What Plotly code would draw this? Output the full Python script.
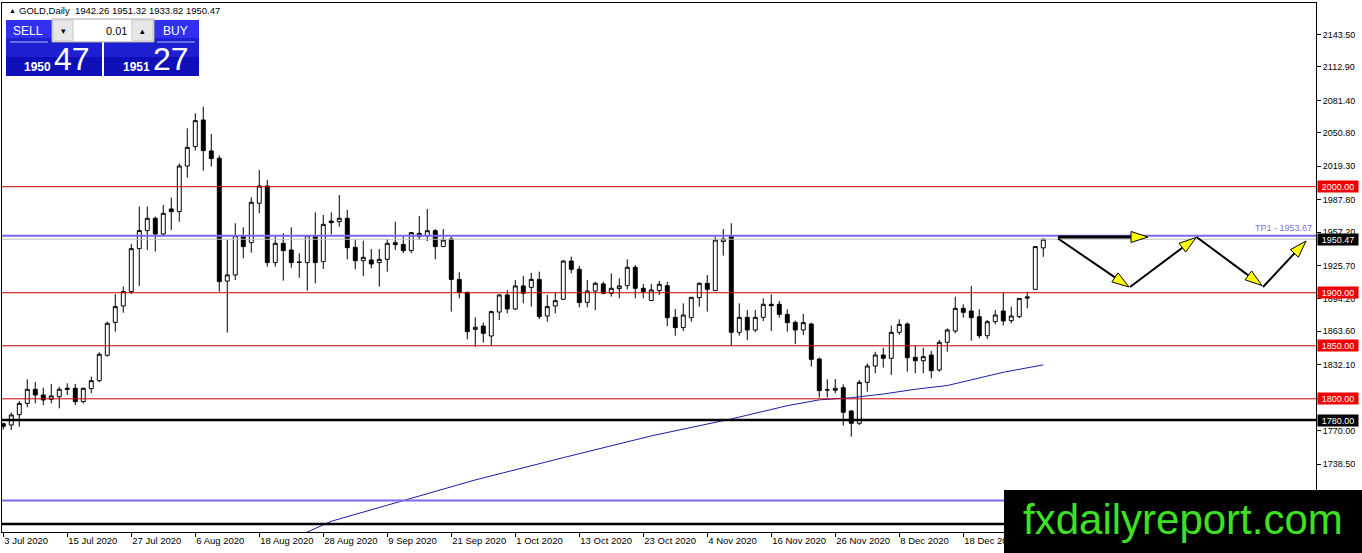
import pandas as pd
import plotly.graph_objects as go

# daily bars 3 Jul 2020 .. 5 Jan 2021 (no bars on 25 Dec and 1 Jan)
days = pd.bdate_range("2020-07-03", "2021-01-05")
days = days[~days.isin(pd.to_datetime(["2020-12-25", "2021-01-01"]))]
dates = [d.strftime("%Y-%m-%d") for d in days]

opens = [
    1776.5, 1775.3, 1785.0, 1795.7, 1809.0, 1803.6, 1799.5, 1802.0, 1810.0, 1809.9,
    1797.3, 1809.6, 1817.1, 1841.0, 1872.0, 1887.5, 1901.1, 1941.6, 1958.6, 1970.2,
    1955.4, 1979.0, 1976.5, 2019.5, 2037.8, 2062.9, 2033.7, 2026.8, 1911.0, 1916.8,
    1953.9, 1947.3, 1984.4, 2000.7, 1928.4, 1946.6, 1940.3, 1929.0, 1928.4, 1953.8,
    1929.3, 1967.6, 1967.0, 1970.2, 1942.8, 1930.2, 1930.9, 1928.4, 1931.5, 1947.2,
    1945.6, 1939.7, 1952.9, 1953.5, 1958.5, 1943.5, 1950.7, 1912.6, 1900.4, 1865.5,
    1868.6, 1859.2, 1881.8, 1897.9, 1884.7, 1906.4, 1905.1, 1912.6, 1878.1, 1887.5,
    1893.8, 1929.9, 1922.1, 1891.0, 1901.6, 1908.3, 1899.5, 1903.9, 1906.7, 1924.0,
    1904.2, 1892.7, 1902.0, 1906.7, 1876.8, 1867.1, 1876.5, 1895.4, 1908.9, 1902.0,
    1948.2, 1953.8, 1862.7, 1876.8, 1864.9, 1876.8, 1889.1, 1889.1, 1879.6, 1872.1,
    1864.9, 1870.5, 1837.5, 1808.5, 1808.0, 1810.5, 1788.5, 1776.9, 1815.5, 1830.9,
    1841.3, 1838.2, 1862.7, 1870.5, 1839.1, 1835.9, 1841.3, 1827.2, 1853.3, 1863.9,
    1885.3, 1882.8, 1877.4, 1859.5, 1872.7, 1882.8, 1873.7, 1877.4, 1894.9, 1903.2,
    1942.26,
]
highs = [
    1777.5, 1787.0, 1798.0, 1818.4, 1815.9, 1810.5, 1814.0, 1811.5, 1814.6, 1814.0,
    1810.5, 1820.9, 1843.9, 1872.8, 1898.8, 1905.8, 1946.0, 1981.2, 1981.2, 1971.8,
    1982.8, 1989.7, 2022.0, 2055.0, 2069.2, 2075.5, 2049.7, 2029.6, 1949.8, 1965.5,
    1961.7, 1990.0, 2015.7, 2006.3, 1954.5, 1956.0, 1961.7, 1937.2, 1954.5, 1975.8,
    1973.3, 1975.8, 1992.2, 1978.0, 1950.4, 1949.1, 1941.2, 1941.2, 1950.7, 1967.0,
    1954.1, 1957.0, 1972.4, 1979.0, 1960.1, 1960.1, 1952.9, 1919.3, 1901.0, 1876.8,
    1871.8, 1883.1, 1898.8, 1902.6, 1912.0, 1915.8, 1918.9, 1919.9, 1897.9, 1900.1,
    1930.9, 1934.0, 1925.2, 1912.0, 1910.4, 1910.4, 1918.3, 1913.6, 1931.5, 1926.2,
    1908.3, 1908.3, 1911.1, 1910.4, 1884.7, 1890.0, 1895.7, 1909.8, 1916.7, 1952.9,
    1960.1, 1965.5, 1890.0, 1883.7, 1883.7, 1894.7, 1898.5, 1892.2, 1884.4, 1873.7,
    1880.0, 1871.8, 1838.8, 1818.4, 1818.7, 1813.6, 1789.4, 1817.7, 1833.4, 1844.4,
    1848.2, 1869.0, 1874.9, 1872.1, 1850.1, 1848.2, 1845.1, 1855.4, 1866.4, 1896.3,
    1889.1, 1906.4, 1884.4, 1874.3, 1883.7, 1900.1, 1886.9, 1894.7, 1901.0, 1944.1,
    1951.32,
]
lows = [
    1771.0, 1770.6, 1773.7, 1792.0, 1795.7, 1794.0, 1795.7, 1791.0, 1803.6, 1794.0,
    1795.7, 1805.2, 1815.6, 1839.8, 1863.3, 1881.2, 1898.8, 1906.4, 1940.3, 1938.8,
    1953.5, 1959.2, 1967.0, 2008.5, 2034.0, 2015.1, 2018.9, 1901.1, 1862.4, 1912.0,
    1932.5, 1937.8, 1974.9, 1924.6, 1924.6, 1911.4, 1923.6, 1914.2, 1902.0, 1908.9,
    1922.4, 1955.1, 1962.3, 1931.5, 1922.0, 1915.8, 1923.0, 1905.7, 1919.9, 1940.3,
    1937.2, 1937.2, 1949.7, 1948.8, 1931.5, 1943.5, 1882.2, 1894.7, 1856.0, 1849.2,
    1852.9, 1849.8, 1874.3, 1880.6, 1883.7, 1890.0, 1886.9, 1875.0, 1872.7, 1880.6,
    1893.8, 1918.3, 1886.2, 1886.2, 1883.7, 1898.5, 1896.3, 1894.7, 1903.2, 1894.7,
    1894.7, 1892.5, 1897.9, 1868.6, 1859.5, 1863.9, 1872.7, 1886.9, 1882.2, 1902.0,
    1935.0, 1850.1, 1859.5, 1855.4, 1862.7, 1873.4, 1863.9, 1876.5, 1863.3, 1851.7,
    1860.2, 1830.3, 1801.1, 1801.1, 1805.2, 1774.7, 1764.3, 1775.3, 1806.7, 1824.0,
    1829.4, 1822.5, 1860.2, 1825.6, 1824.0, 1824.0, 1819.3, 1825.6, 1844.4, 1861.7,
    1876.5, 1854.8, 1857.0, 1856.4, 1870.2, 1869.0, 1871.2, 1875.9, 1885.3, 1903.2,
    1933.82,
]
closes = [
    1774.0, 1784.8, 1795.7, 1809.0, 1803.6, 1798.9, 1802.7, 1809.0, 1809.0, 1797.3,
    1809.9, 1817.1, 1842.0, 1871.2, 1886.9, 1901.1, 1941.6, 1958.6, 1970.2, 1955.4,
    1974.9, 1976.5, 2019.5, 2037.1, 2062.3, 2034.0, 2026.5, 1910.5, 1916.8, 1953.9,
    1943.5, 1985.3, 2000.7, 1928.4, 1946.6, 1939.7, 1928.4, 1928.6, 1953.8, 1928.4,
    1964.5, 1966.1, 1970.2, 1942.5, 1930.2, 1933.4, 1927.1, 1931.5, 1946.6, 1945.3,
    1939.7, 1956.7, 1956.0, 1958.5, 1943.5, 1949.7, 1912.6, 1900.4, 1863.3, 1867.4,
    1861.7, 1882.2, 1897.9, 1884.7, 1906.4, 1899.5, 1912.6, 1877.5, 1886.9, 1892.5,
    1929.9, 1922.1, 1890.7, 1901.6, 1908.9, 1899.5, 1904.2, 1906.4, 1924.0, 1904.2,
    1901.0, 1902.6, 1908.0, 1876.5, 1867.1, 1879.0, 1895.7, 1908.9, 1903.2, 1949.7,
    1950.7, 1862.7, 1876.8, 1864.9, 1876.8, 1889.1, 1887.8, 1879.6, 1871.8, 1864.9,
    1871.8, 1837.2, 1807.7, 1808.3, 1809.9, 1787.3, 1776.9, 1815.5, 1830.9, 1841.3,
    1838.2, 1862.7, 1870.2, 1838.8, 1835.9, 1839.7, 1826.5, 1853.3, 1864.9, 1885.3,
    1881.5, 1876.5, 1859.5, 1872.7, 1879.0, 1873.4, 1878.1, 1894.7, 1896.0, 1943.5,
    1950.47,
]

ma_bars = [37, 41, 50, 59, 70, 81, 91, 98, 102, 106, 110, 114, 118, 121, 125, 130]
ma_vals = [1671, 1684.5, 1704, 1723.5, 1744.5, 1765, 1781, 1793.5, 1799, 1801,
           1804.5, 1809, 1812.5, 1818, 1825, 1832]

# horizontal levels
red_levels = [2000.0, 1900.0, 1850.0, 1800.0]
black_levels = [1780.0, 1682.0]
blue_levels = [1953.67, 1704.0]
bid = 1950.47
tp_label = "TP1 - 1953.67"

ytick_vals = [2143.5, 2112.9, 2081.4, 2050.8, 2019.3, 1987.8, 1957.2, 1925.7,
              1894.2, 1863.6, 1832.1, 1800.6, 1770.0, 1738.5]
xtick_idx = list(range(0, 121, 8))
xtick_vals = [dates[i] for i in xtick_idx]
xtick_text = [f"{days[i].day} {days[i].strftime('%b %Y')}" for i in xtick_idx]

header = "GOLD,Daily  1942.26 1951.32 1933.82 1950.47"

FONT = "Liberation Sans"
W, H = 1362, 553
L, R, T, B = 2, 1316, 3, 532


def px(x):
    return (x - L) / (R - L)


def py(y):
    return (B - y) / (B - T)


fig = go.Figure()

fig.add_trace(go.Candlestick(
    x=dates, open=opens, high=highs, low=lows, close=closes,
    increasing=dict(line=dict(color="black", width=1), fillcolor="white"),
    decreasing=dict(line=dict(color="black", width=1), fillcolor="black"),
    whiskerwidth=0, showlegend=False, hoverinfo="skip",
))

fig.add_trace(go.Scatter(
    x=[dates[i] for i in ma_bars], y=ma_vals, mode="lines",
    line=dict(color="#1c1ca8", width=1), showlegend=False, hoverinfo="skip",
))

shapes = []
annotations = []

for lv in red_levels:
    shapes.append(dict(type="line", xref="paper", yref="y", x0=0, x1=1, y0=lv, y1=lv,
                       line=dict(color="#c80000", width=1), layer="above"))
shapes.append(dict(type="line", xref="paper", yref="y", x0=0, x1=1, y0=bid, y1=bid,
                   line=dict(color="#c0c0c0", width=1), layer="above"))
for lv in blue_levels:
    shapes.append(dict(type="line", xref="paper", yref="y", x0=0, x1=1, y0=lv, y1=lv,
                       line=dict(color="#7b68ee", width=2), layer="above"))
for lv in black_levels:
    shapes.append(dict(type="line", xref="paper", yref="y", x0=0, x1=1, y0=lv, y1=lv,
                       line=dict(color="black", width=2.5), layer="above"))

# price labels on the right scale
for lv in red_levels:
    annotations.append(dict(xref="paper", yref="y", x=px(1317), y=lv, xanchor="left",
                            yanchor="middle", text=f"{lv:.2f}", showarrow=False,
                            bgcolor="#f00000", width=40, height=11, borderpad=0,
                            font=dict(family=FONT, size=9, color="white")))
for lv in [black_levels[0], bid]:
    annotations.append(dict(xref="paper", yref="y", x=px(1317), y=lv, xanchor="left",
                            yanchor="middle", text=f"{lv:.2f}", showarrow=False,
                            bgcolor="black", width=40, height=11, borderpad=0,
                            font=dict(family=FONT, size=9, color="white")))
annotations.append(dict(xref="paper", yref="y", x=px(1314), y=blue_levels[0], xanchor="right",
                        yanchor="bottom", yshift=1, text=tp_label, showarrow=False,
                        font=dict(family=FONT, size=9, color="#7b74e6")))

# drawn forecast arrows (pixel positions)
arrows = [((1058, 237), (1148, 237), 3),
          ((1058, 238.5), (1129, 287), 2),
          ((1130, 287), (1196, 237.5), 2),
          ((1196.5, 237), (1262, 285.5), 2),
          ((1263, 287), (1306, 241), 2)]
for (x0, y0), (x1, y1), w in arrows:
    dx, dy = x1 - x0, y1 - y0
    n = (dx * dx + dy * dy) ** 0.5
    ux, uy = dx / n, dy / n
    bx, by = x1 - 17 * ux, y1 - 17 * uy
    shapes.append(dict(type="line", xref="paper", yref="paper",
                       x0=px(x0), y0=py(y0), x1=px(bx), y1=py(by),
                       line=dict(color="black", width=w), layer="above"))
    pts = [(x1, y1), (bx - 5.5 * uy, by + 5.5 * ux), (bx + 5.5 * uy, by - 5.5 * ux)]
    path = "M " + " L ".join(f"{px(a):.5f},{py(b):.5f}" for a, b in pts) + " Z"
    shapes.append(dict(type="path", xref="paper", yref="paper", path=path,
                       fillcolor="#ffff00", line=dict(color="black", width=1), layer="above"))

# one-click trading panel
for x0, x1 in [(6, 102), (104, 199)]:
    for y0, y1, c in [(20, 38, "#3030ee"), (38, 57, "#1f1fd2"), (57, 76, "#0f0fb8")]:
        shapes.append(dict(type="rect", xref="paper", yref="paper", x0=px(x0), x1=px(x1),
                           y0=py(y1), y1=py(y0), fillcolor=c, line=dict(width=0), layer="above"))
for x0, x1 in [(10, 48), (157, 195)]:
    shapes.append(dict(type="line", xref="paper", yref="paper", x0=px(x0), x1=px(x1),
                       y0=py(42), y1=py(42), line=dict(color="#b8b8ff", width=1), layer="above"))
shapes.append(dict(type="rect", xref="paper", yref="paper", x0=px(52), x1=px(154),
                   y0=py(42), y1=py(19), fillcolor="white",
                   line=dict(color="#a8a8a8", width=1), layer="above"))
for x0, x1 in [(53, 73), (132, 153)]:
    shapes.append(dict(type="rect", xref="paper", yref="paper", x0=px(x0), x1=px(x1),
                       y0=py(41), y1=py(20), fillcolor="#e6e6e6",
                       line=dict(color="#c8c8c8", width=1), layer="above"))

# watermark box
shapes.append(dict(type="rect", xref="paper", yref="paper", x0=px(1004), x1=px(1362),
                   y0=py(553), y1=py(490), fillcolor="black", line=dict(width=0), layer="above"))


def label(x, y, text, size, color="black", xanchor="left", weight="normal"):
    annotations.append(dict(xref="paper", yref="paper", x=px(x), y=py(y), text=text,
                            xanchor=xanchor, yanchor="middle", showarrow=False,
                            font=dict(family=FONT, size=size, color=color, weight=weight)))


label(7, 10.5, "▲", 7)
label(17, 10.5, header, 9.5)
label(28, 30.5, "SELL", 12, "white", "center")
label(175, 30.5, "BUY", 12, "white", "center")
label(63, 30.5, "▾", 9, xanchor="center")
label(142.5, 30.5, "▴", 9, xanchor="center")
label(129, 31, "0.01", 11, xanchor="right")
label(22, 66.5, "1950", 12, "white", weight="bold")
label(52, 59, "47", 32, "white")
label(121, 66.5, "1951", 12, "white", weight="bold")
label(151, 59, "27", 32, "white")
label(1183, 519, "fxdailyreport.com", 42, "#3ee022", "center")

fig.update_layout(
    width=W, height=H,
    margin=dict(l=L, r=W - R, t=T, b=H - B),
    paper_bgcolor="white", plot_bgcolor="white",
    shapes=shapes, annotations=annotations,
    xaxis=dict(type="category", range=[-0.16, 164.09], rangeslider=dict(visible=False),
               showgrid=False, zeroline=False, showline=True, mirror=True,
               linecolor="black", linewidth=1, ticks="outside", ticklen=4,
               tickcolor="black", tickvals=xtick_vals, ticktext=xtick_text,
               ticklabelposition="outside right",
               tickfont=dict(family=FONT, size=9.5, color="black")),
    yaxis=dict(side="right", range=[1674.4, 2173.2], showgrid=False, zeroline=False,
               showline=True, mirror=True, linecolor="black", linewidth=1,
               ticks="outside", ticklen=4, tickcolor="black", tickvals=ytick_vals,
               tickformat=".2f", tickfont=dict(family=FONT, size=9, color="black")),
)

# the page's default body margin would push the chart off the window
fig.write_html("out.html", config={"displayModeBar": False},
               post_script="document.body.style.margin='0';")
